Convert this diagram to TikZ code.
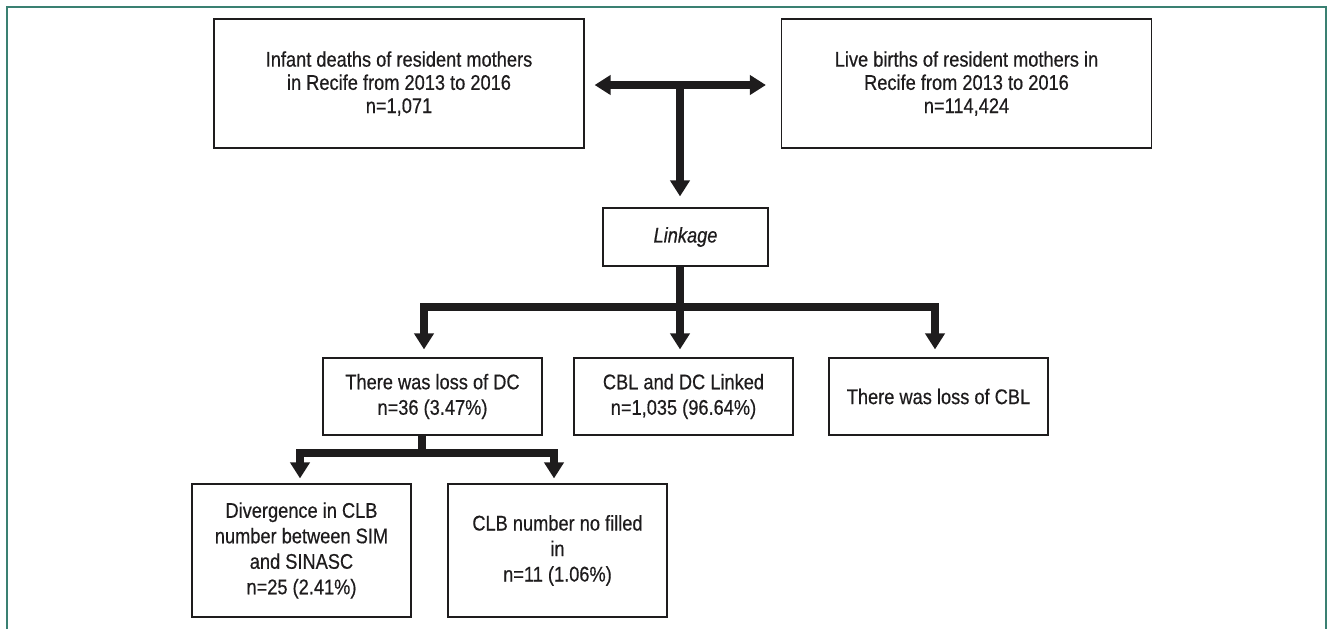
\documentclass[tikz,border=0pt]{standalone}
\usepackage{fontspec}
\setmainfont{Liberation Sans}[FakeStretch=0.86,FakeBold=0.5]
\usetikzlibrary{arrows.meta}

\definecolor{frameteal}{RGB}{58,128,114}
\definecolor{inkdark}{RGB}{30,28,29}
\tikzset{
  box/.style={draw=inkdark,line width=0.6pt,align=center,inner sep=0pt,text=inkdark,font=\fontsize{10.6}{12.75}\selectfont},
  topbox/.style={box,minimum width=185pt,minimum height=64.5pt,font=\fontsize{10.6}{11.6}\selectfont},
  midbox/.style={box,minimum width=109.5pt,minimum height=38.5pt},
  lowbox/.style={box,minimum width=109.5pt,minimum height=66.5pt},
  fatline/.style={draw=inkdark,line width=3.6pt},
  fatarrow/.style={fatline,-{Triangle[width=9.5pt,length=8pt]}},
  fatboth/.style={fatline,{Triangle[width=9.5pt,length=8pt]}-{Triangle[width=9.5pt,length=8pt]}}
}

\begin{document}
\begin{tikzpicture}[x=0.5pt,y=-0.5pt]
\useasboundingbox (0,0) rectangle (1331,629);
\draw[frameteal,line width=0.8pt] (7,629) -- (7,7) -- (1326,7) -- (1326,629);
\node[topbox] (infant) at (399,83.5) {Infant deaths of resident mothers\\in Recife from 2013 to 2016\\n=1,071};
\node[topbox] (live) at (966.5,83.5) {Live births of resident mothers in\\Recife from 2013 to 2016\\n=114,424};
\node[box,minimum width=82.5pt,minimum height=29pt] (link) at (685.5,237) {\textit{Linkage}};
\node[midbox] (lossdc) at (432.5,396.5) {There was loss of DC\\n=36 (3.47\%)};
\node[midbox] (linked) at (683.5,396.5) {CBL and DC Linked\\n=1,035 (96.64\%)};
\node[midbox] (losscbl) at (938.5,396.5) {There was loss of CBL};
\node[lowbox] (diverg) at (301.5,550.5) {Divergence in CLB\\number between SIM\\and SINASC\\n=25 (2.41\%)};
\node[lowbox] (nofill) at (557.5,550.5) {CLB number no filled\\in\\n=11 (1.06\%)};
\coordinate (tjoin) at (680,85);
\coordinate (split) at (680,307);
\coordinate (subsplit) at (422,453);
\draw[fatboth] ([xshift=5pt,yshift=-0.75pt]infant.east) -- ([xshift=-7.5pt,yshift=-0.75pt]live.west);
\draw[fatarrow] (tjoin) -- ([xshift=-2.75pt,yshift=5.5pt]link.north);
\draw[fatarrow] ([xshift=-2.75pt]link.south) -- ([xshift=-1.75pt,yshift=4pt]linked.north);
\draw[fatarrow] (split) -| ([xshift=-4.25pt,yshift=4pt]lossdc.north);
\draw[fatarrow] (split) -| ([xshift=-1.75pt,yshift=4pt]losscbl.north);
\draw[fatline] ([xshift=-5.25pt]lossdc.south) -- (subsplit);
\draw[fatarrow] (subsplit) -| ([xshift=-0.75pt,yshift=2.5pt]diverg.north);
\draw[fatarrow] (subsplit) -| ([xshift=-1.75pt,yshift=2.5pt]nofill.north);
\end{tikzpicture}
\end{document}
